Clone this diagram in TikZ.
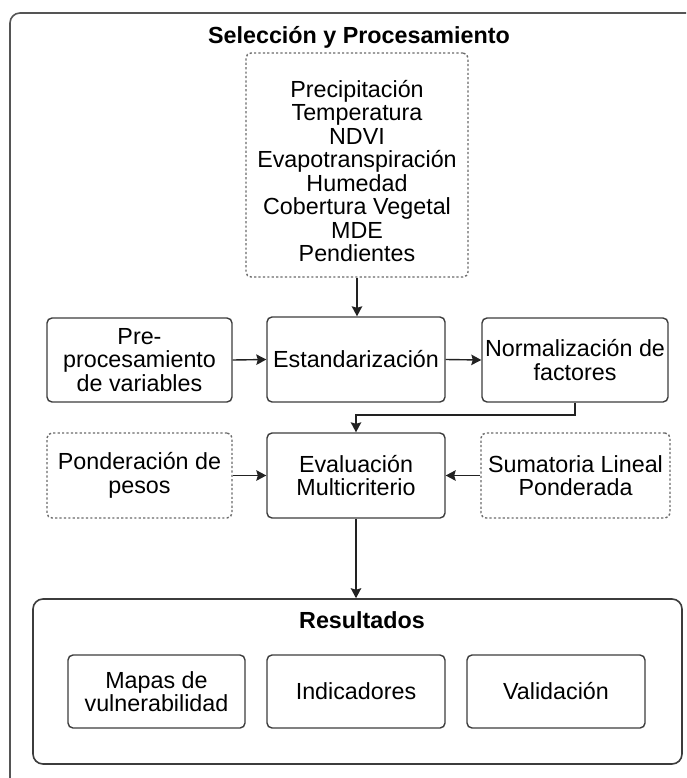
\documentclass[tikz,border=0pt]{standalone}
\usepackage{fontspec}
\setmainfont{Liberation Sans}
\usetikzlibrary{arrows.meta}
\definecolor{boxline}{HTML}{3C3C3C}
\definecolor{dotline}{HTML}{6A6A6A}
\definecolor{outline}{HTML}{555555}
\definecolor{arrowline}{HTML}{222222}
\tikzset{
  txt/.style={font=\fontsize{23.3}{23.5}\selectfont, align=center, inner sep=0pt, text=black},
  ttl/.style={font=\fontsize{23.3}{23.5}\selectfont\bfseries, inner sep=0pt, text=black},
  solidbox/.style={draw=boxline, line width=1.4pt, rounded corners=5pt, txt},
  dotbox/.style={draw=dotline, line width=1.4pt, dash pattern=on 2.2pt off 2.2pt, rounded corners=5pt, txt},
  conn/.style={draw=arrowline, line width=1.4pt, -{Stealth[inset=1.5pt,width=10.5pt,length=10pt]}},
}
\begin{document}
\begin{tikzpicture}[x=1pt,y=-1pt]
\useasboundingbox (0,0) rectangle (686,778);
\clip (0,0) rectangle (686,778);
\fill[white] (0,0) rectangle (686,778);
% outer container
\draw[draw=outline, line width=1.6pt, rounded corners=10pt] (10,13) rectangle (720,800);
\node[ttl] (seltitle) at (359,37) {Selección y Procesamiento};
% variables
\node[dotbox, minimum width=222pt, minimum height=224pt] (vars) at (357,165) {};
\node[txt] (varstext) at (357,171) {Precipitación\\Temperatura\\NDVI\\Evapotranspiración\\Humedad\\Cobertura Vegetal\\MDE\\Pendientes};
% row 1
\node[solidbox, minimum width=185pt, minimum height=84pt] (pre) at (139.5,360) {Pre-\\procesamiento\\de variables};
\node[solidbox, minimum width=178pt, minimum height=85pt] (est) at (356,359.5) {Estandarización};
\node[solidbox, minimum width=186pt, minimum height=84pt] (norm) at (575,360) {Normalización de\\factores};
% row 2
\node[dotbox, minimum width=185pt, minimum height=85pt] (pond) at (139.5,475.5) {Ponderación de\\pesos};
\node[solidbox, minimum width=178pt, minimum height=85pt] (eval) at (356,475.5) {Evaluación\\Multicriterio};
\node[dotbox, minimum width=189pt, minimum height=85pt] (sum) at (575.5,475.5) {Sumatoria Lineal\\Ponderada};
% results
\node[draw=boxline, line width=1.6pt, rounded corners=10pt, minimum width=649pt, minimum height=165pt] (res) at (357.5,681.5) {};
\node[ttl] (restitle) at (362,620) {Resultados};
\node[solidbox, minimum width=177pt, minimum height=73pt] (mapas) at (156.5,691.5) {Mapas de\\vulnerabilidad};
\node[solidbox, minimum width=178pt, minimum height=73pt] (ind) at (356,691.5) {Indicadores};
\node[solidbox, minimum width=178pt, minimum height=73pt] (val) at (556,691.5) {Validación};
% connectors
\draw[conn] (vars.south) -- (vars.south |- est.north);
\draw[conn] (pre.east) -- (est.west);
\draw[conn] (est.east) -- (norm.west);
\coordinate (bend) at (356,415);
\draw[conn] (norm.south) |- (bend) -- (eval.north);
\draw[conn] (pond.east) -- (eval.west);
\draw[conn] (sum.west) -- (eval.east);
\draw[conn] (eval.south) -- (res.north -| eval.south);
\end{tikzpicture}
\end{document}
